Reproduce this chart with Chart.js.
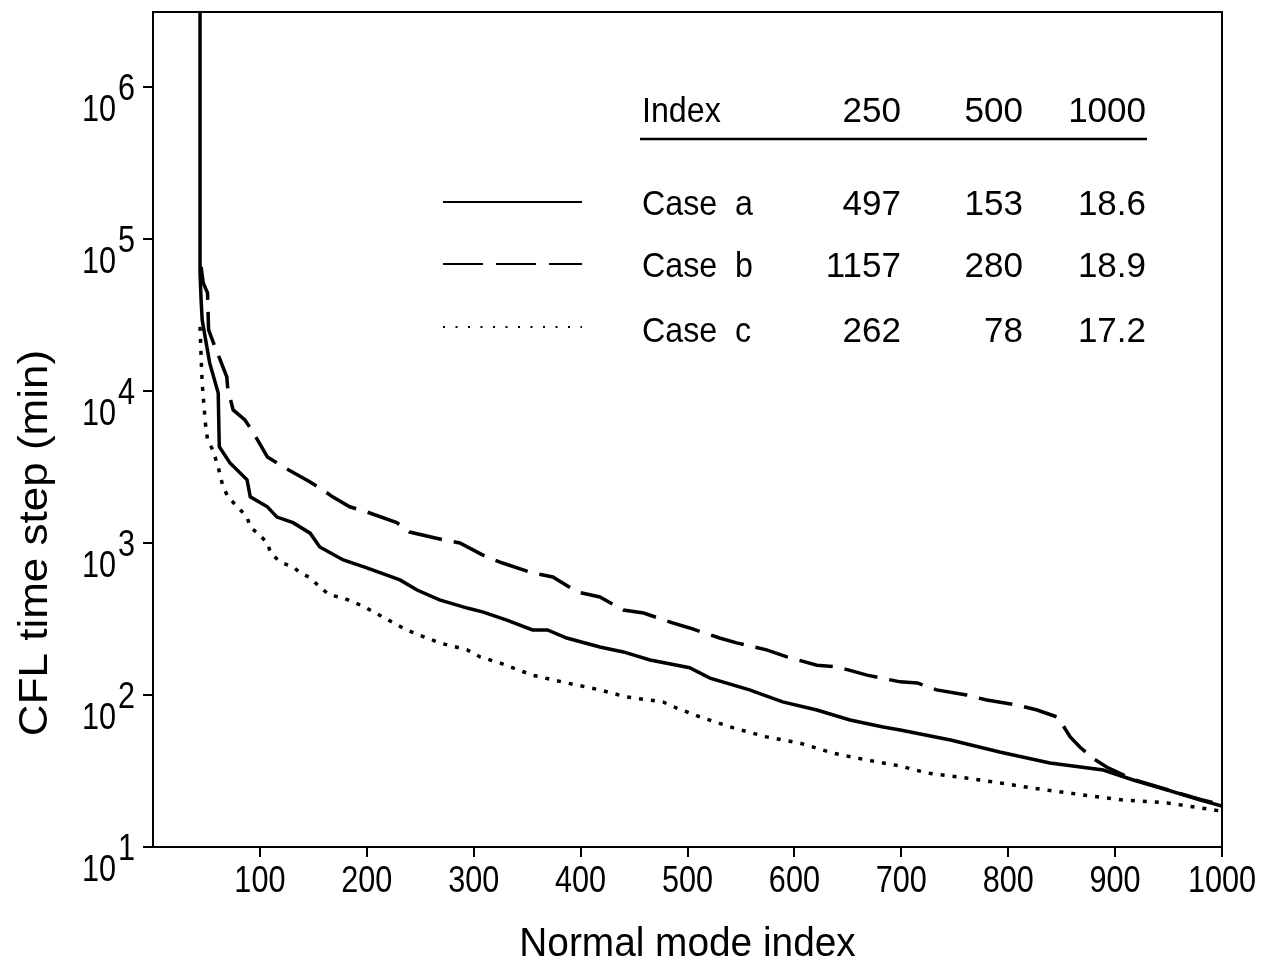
<!DOCTYPE html>
<html>
<head>
<meta charset="utf-8">
<title>CFL time step</title>
<script src="https://cdn.jsdelivr.net/npm/chart.js@4.4.1/dist/chart.umd.min.js"></script>
<style>
    html, body { margin: 0; padding: 0; background: #fff; }
    canvas { display: block; }
</style>
</head>
<body>
<canvas id="cflChart" width="1264" height="961"></canvas>
<script>
// ================= DATA =================
const caseA_index = [44, 44, 45, 46, 53, 61, 62, 72, 88, 91, 107, 116, 131, 147, 156, 178, 200, 231, 247, 268, 294, 309, 331, 355, 369, 387, 418, 440, 465, 502, 521, 558, 589, 621, 652, 683, 699, 746, 792, 839, 889, 917, 949, 979, 1000];
const caseA_value = [1e8, 60000, 39700, 29300, 15300, 9700, 4290, 3360, 2600, 2010, 1730, 1480, 1360, 1160, 942, 773, 686, 571, 490, 422, 373, 351, 311, 268, 268, 237, 207, 192, 170, 151, 129, 108, 90, 79.6, 68.5, 61.5, 58.9, 50.6, 42.2, 35.7, 32.1, 27.6, 23.7, 20.4, 18.6];

const caseB_index = [45, 47, 51, 52, 58, 69, 70, 75, 86, 94, 107, 122, 147, 159, 168, 184, 200, 228, 240, 271, 287, 312, 327, 355, 374, 397, 418, 440, 459, 486, 502, 530, 546, 574, 593, 621, 640, 668, 699, 715, 733, 761, 780, 808, 827, 846, 851, 858, 867, 879, 892, 917, 949, 979, 1000];
const caseB_value = [65500, 51400, 44200, 25200, 19500, 12400, 10200, 7500, 6440, 5300, 3680, 3160, 2520, 2230, 2010, 1730, 1600, 1360, 1180, 1050, 1000, 809, 738, 635, 598, 476, 441, 362, 346, 298, 276, 237, 220, 198, 178, 157, 153, 135, 122, 120, 108, 100, 92.6, 85.9, 79.6, 71.6, 63.5, 53.0, 45.5, 38.5, 33.6, 27.8, 23.8, 20.6, 18.9];

const caseC_index = [44, 45, 46, 47, 49, 51, 56, 61, 65, 70, 79, 88, 91, 98, 107, 110, 119, 131, 137, 147, 156, 165, 178, 187, 196, 215, 237, 268, 294, 306, 325, 355, 387, 418, 443, 477, 490, 512, 543, 574, 605, 636, 668, 699, 724, 761, 792, 823, 870, 907, 949, 979, 1000];
const caseC_value = [26400, 16700, 11300, 9140, 6150, 4760, 4090, 3160, 2410, 2010, 1730, 1480, 1270, 1160, 1000, 859, 750, 695, 644, 589, 514, 455, 435, 409, 385, 326, 268, 220, 198, 178, 162, 135, 120, 108, 97, 90, 82, 71.6, 60.7, 53, 48.3, 41.5, 37.3, 34.1, 30.7, 28.4, 26.4, 24.4, 22.0, 20.4, 19.5, 18.1, 17.2];

const xTickValues = [100, 200, 300, 400, 500, 600, 700, 800, 900, 1000];
const yTickValues = [10, 100, 1000, 10000, 100000, 1000000];

// table in the upper right
const tableHeader = ["Index", "250", "500", "1000"];
const caseNames = ["Case  a", "Case  b", "Case  c"];
const caseA_table = ["497", "153", "18.6"];
const caseB_table = ["1157", "280", "18.9"];
const caseC_table = ["262", "78", "17.2"];

// ================= HELPERS =================
const FONT = '"Liberation Sans", Arial, sans-serif';

function toPoints(xs, ys) {
    return xs.map((x, i) => ({ x: x, y: ys[i] }));
}

function drawText(ctx, str, x, y, align, size, sx) {
    ctx.save();
    ctx.translate(x, y);
    ctx.scale(sx, 1);
    ctx.font = size + "px " + FONT;
    ctx.fillStyle = "#000";
    ctx.textAlign = align;
    ctx.textBaseline = "alphabetic";
    ctx.fillText(str, 0, 0);
    ctx.restore();
}

function drawSample(ctx, y, dash, width) {
    ctx.save();
    ctx.strokeStyle = "#000";
    ctx.lineWidth = width;
    ctx.setLineDash(dash);
    ctx.beginPath();
    ctx.moveTo(443, y);
    ctx.lineTo(582, y);
    ctx.stroke();
    ctx.restore();
}

// ================= LABEL PLUGIN =================
const labelPlugin = {
    id: "labels",
    afterDraw(chart) {
        const ctx = chart.ctx;
        const { left, right, top, bottom } = chart.chartArea;
        const xs = chart.scales.x;
        const ys = chart.scales.y;

        // frame top + right
        ctx.save();
        ctx.strokeStyle = "#000";
        ctx.lineWidth = 2;
        ctx.beginPath();
        ctx.moveTo(left, top);
        ctx.lineTo(right, top);
        ctx.lineTo(right, bottom);
        ctx.stroke();
        ctx.restore();

        // y tick labels 10^n
        yTickValues.forEach(v => {
            const py = ys.getPixelForValue(v);
            const e = Math.round(Math.log10(v));
            drawText(ctx, "10", 116, py + 34, "right", 36, 0.85);
            drawText(ctx, String(e), 118, py + 13, "left", 36, 0.85);
        });

        // x tick labels
        xTickValues.forEach(v => {
            drawText(ctx, String(v), xs.getPixelForValue(v), 892, "center", 36, 0.85);
        });

        // axis titles
        drawText(ctx, "Normal mode index", (left + right) / 2, 956, "center", 40, 0.97);
        ctx.save();
        ctx.translate(47, 543);
        ctx.rotate(-Math.PI / 2);
        drawText(ctx, "CFL time step (min)", 0, 0, "center", 40, 1.1);
        ctx.restore();

        // table
        const colRight = [901, 1023, 1146];
        drawText(ctx, tableHeader[0], 642, 122, "left", 35, 0.92);
        for (let c = 0; c < 3; c++) {
            drawText(ctx, tableHeader[c + 1], colRight[c], 122, "right", 35, 1.0);
        }
        ctx.save();
        ctx.strokeStyle = "#000";
        ctx.lineWidth = 2.5;
        ctx.beginPath();
        ctx.moveTo(640, 139);
        ctx.lineTo(1147, 139);
        ctx.stroke();
        ctx.restore();

        const rows = [caseA_table, caseB_table, caseC_table];
        const rowBase = [215, 277, 342];
        rows.forEach((row, r) => {
            drawText(ctx, caseNames[r], 642, rowBase[r], "left", 35, 0.92);
            row.forEach((t, c) => drawText(ctx, t, colRight[c], rowBase[r], "right", 35, 1.0));
        });

        drawSample(ctx, 202, [], 2);
        drawSample(ctx, 264, [40, 13], 2);
        drawSample(ctx, 327, [2, 10.5], 2);
    }
};

// ================= CHART =================
const axisGrid = {
    display: true,
    drawOnChartArea: false,
    drawTicks: true,
    tickLength: 10,
    color: "#000",
    lineWidth: 2
};

new Chart(document.getElementById("cflChart"), {
    type: "line",
    data: {
        datasets: [
            {
                label: "Case a",
                data: toPoints(caseA_index, caseA_value),
                borderColor: "#000",
                borderWidth: 3.5
            },
            {
                label: "Case b",
                data: toPoints(caseB_index, caseB_value),
                borderColor: "#000",
                borderWidth: 3.5,
                borderDash: [34, 12]
            },
            {
                label: "Case c",
                data: toPoints(caseC_index, caseC_value),
                borderColor: "#000",
                borderWidth: 3.5,
                borderDash: [4, 8]
            }
        ]
    },
    options: {
        responsive: false,
        animation: false,
        devicePixelRatio: 1,
        elements: {
            point: { radius: 0 },
            line: { tension: 0, fill: false, borderCapStyle: "butt" }
        },
        layout: { padding: { left: 0, right: 42, top: 12, bottom: 0 } },
        plugins: {
            legend: { display: false },
            tooltip: { enabled: false }
        },
        scales: {
            x: {
                type: "linear",
                min: 0,
                max: 1000,
                grid: axisGrid,
                border: { display: true, color: "#000", width: 2 },
                ticks: { autoSkip: false, callback: () => "" },
                afterBuildTicks: (scale) => {
                    scale.ticks = xTickValues.map(v => ({ value: v }));
                },
                afterFit: (scale) => { scale.height = 114; }
            },
            y: {
                type: "logarithmic",
                min: 10,
                max: 3.11e6,
                grid: axisGrid,
                border: { display: true, color: "#000", width: 2 },
                ticks: { autoSkip: false, callback: () => "" },
                afterBuildTicks: (scale) => {
                    scale.ticks = yTickValues.map(v => ({ value: v }));
                },
                afterFit: (scale) => { scale.width = 153; }
            }
        }
    },
    plugins: [labelPlugin]
});
</script>
</body>
</html>
